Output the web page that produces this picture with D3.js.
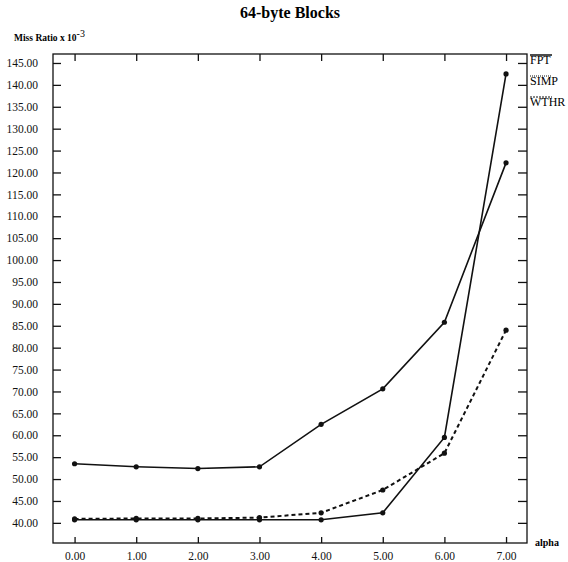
<!DOCTYPE html>
<html>
<head>
<meta charset="utf-8">
<script src="https://cdn.jsdelivr.net/npm/d3@7"></script>
<style>
  body { margin: 0; background: #fff; }
  svg, svg text { font-family: "Liberation Serif", "DejaVu Serif", serif; }
  .axis path, .axis line { stroke: #111; stroke-width: 1.3; }
  .axis text { font-size: 11.5px; fill: #111; font-family: "Liberation Serif", serif; }
</style>
</head>
<body>
<svg id="chart"></svg>
<script>
// data
var alphas = [0, 1, 2, 3, 4, 5, 6, 7];
var fpt  = [53.5, 52.8, 52.4, 52.8, 62.5, 70.6, 85.8, 122.2];
var simp = [40.7, 40.7, 40.7, 40.7, 40.7, 42.3, 59.5, 142.5];
var wthr = [40.9, 41.0, 41.0, 41.2, 42.3, 47.5, 55.9, 84.0];
var seriesNames = ["FPT", "SIMP", "WTHR"];
var yTicks = d3.range(40, 146, 5);
var xTicks = alphas;

var W = 568, H = 562;
var margin = {top: 54, right: 41, bottom: 19, left: 53};
var width = W - margin.left - margin.right,
    height = H - margin.top - margin.bottom;

var x = d3.scaleLinear().domain([-0.35, 7.34]).range([0, width]);
var y = d3.scaleLinear().domain([35.4, 147.05]).range([height, 0]);

var svg = d3.select("#chart").attr("width", W).attr("height", H);
var g = svg.append("g")
    .attr("transform", "translate(" + margin.left + "," + margin.top + ")");

// frame
g.append("rect")
    .attr("width", width).attr("height", height)
    .attr("fill", "none").attr("stroke", "#111").attr("stroke-width", 1.3);

// left axis, ticks point inward
var yAxis = d3.axisLeft(y).tickValues(yTicks).tickSize(-8).tickPadding(15)
    .tickFormat(d3.format(".2f"));
g.append("g").attr("class", "y axis").call(yAxis)
  .attr("font-family", null)
  .call(function(s) { s.select(".domain").remove(); });

// right axis ticks
var yRight = d3.axisRight(y).tickValues(yTicks).tickSize(-9).tickFormat("");
g.append("g").attr("class", "axis").attr("transform", "translate(" + width + ",0)")
  .call(yRight).call(function(s) { s.select(".domain").remove(); });

// bottom axis
var xAxis = d3.axisBottom(x).tickValues(xTicks).tickSize(-6).tickPadding(9)
    .tickFormat(d3.format(".2f"));
g.append("g").attr("class", "x axis").attr("transform", "translate(0," + height + ")")
  .call(xAxis)
  .attr("font-family", null)
  .call(function(s) { s.select(".domain").remove(); });

// top axis ticks
var xTop = d3.axisTop(x).tickValues(xTicks).tickSize(-7).tickFormat("");
g.append("g").attr("class", "axis").call(xTop)
  .call(function(s) { s.select(".domain").remove(); });

// lines
var line = d3.line()
    .x(function(d, i) { return x(alphas[i]); })
    .y(function(d) { return y(d); });

var all = [fpt, simp, wthr];
var dashes = [null, null, "4,3"];
all.forEach(function(vals, k) {
  g.append("path")
      .datum(vals)
      .attr("d", line)
      .attr("fill", "none")
      .attr("stroke", "#111")
      .attr("stroke-width", k == 2 ? 2 : 1.6)
      .attr("stroke-dasharray", dashes[k]);
  g.selectAll(".pt" + k)
    .data(vals)
    .enter().append("circle")
      .attr("cx", function(d, i) { return x(alphas[i]); })
      .attr("cy", function(d) { return y(d); })
      .attr("r", 2.6)
      .attr("fill", "#111");
});

// title
svg.append("text")
    .attr("x", 290).attr("y", 18)
    .attr("text-anchor", "middle")
    .attr("font-size", 16).attr("font-weight", "bold")
    .text("64-byte Blocks");

// y label
var yl = svg.append("text")
    .attr("x", 14).attr("y", 41)
    .attr("font-size", 9.5).attr("font-weight", "bold");
yl.append("tspan").text("Miss Ratio x 10");
yl.append("tspan").attr("dy", -4).attr("font-size", 10).attr("font-weight", "normal").text("-3");

// x label
svg.append("text")
    .attr("x", 535).attr("y", 546)
    .attr("font-size", 10).attr("font-weight", "bold")
    .text("alpha");

// legend
seriesNames.forEach(function(n, i) {
  var ly = 64 + i * 21;
  svg.append("line")
      .attr("x1", 530).attr("x2", 552)
      .attr("y1", ly - 9).attr("y2", ly - 9)
      .attr("stroke", "#111")
      .attr("stroke-width", i == 0 ? 1.5 : 1)
      .attr("stroke-dasharray", i == 0 ? null : (i == 1 ? "1,1" : "2,1"));
  svg.append("text")
      .attr("x", 530).attr("y", ly)
      .attr("font-size", 12)
      .text(n);
});
</script>
</body>
</html>
